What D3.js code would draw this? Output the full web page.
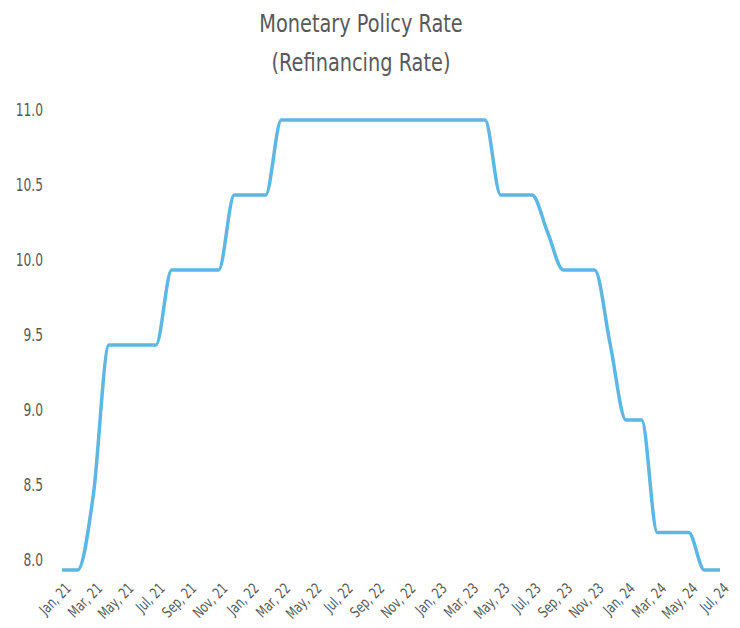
<!DOCTYPE html>
<html>
<head>
<meta charset="utf-8">
<script src="https://cdn.jsdelivr.net/npm/d3@7"></script>
<style>
  body { margin: 0; background: #fff; }
  text { font-family: "Liberation Sans Narrow", "DejaVu Sans Condensed", sans-serif; fill: #595959; }
</style>
</head>
<body>
<div id="chart"></div>
<script>
// monthly refinancing rate, Jan 21 .. Jul 24
const months = ["Jan, 21","Feb, 21","Mar, 21","Apr, 21","May, 21","Jun, 21","Jul, 21","Aug, 21","Sep, 21","Oct, 21","Nov, 21","Dec, 21",
  "Jan, 22","Feb, 22","Mar, 22","Apr, 22","May, 22","Jun, 22","Jul, 22","Aug, 22","Sep, 22","Oct, 22","Nov, 22","Dec, 22",
  "Jan, 23","Feb, 23","Mar, 23","Apr, 23","May, 23","Jun, 23","Jul, 23","Aug, 23","Sep, 23","Oct, 23","Nov, 23","Dec, 23",
  "Jan, 24","Feb, 24","Mar, 24","Apr, 24","May, 24","Jun, 24","Jul, 24"];
const rate = [8, 8, 8.5, 9.5, 9.5, 9.5, 9.5, 10, 10, 10, 10, 10.5,
  10.5, 10.5, 11, 11, 11, 11, 11, 11, 11, 11, 11, 11,
  11, 11, 11, 11, 10.5, 10.5, 10.5, 10.25, 10, 10, 10, 9.5,
  9, 9, 8.25, 8.25, 8.25, 8, 8];
const yTicks = [8.0, 8.5, 9.0, 9.5, 10.0, 10.5, 11.0];

const width = 740, height = 628;
const narrow = 0.8; // squeeze text so it looks like a narrow font

const svg = d3.select("#chart").append("svg")
  .attr("width", width)
  .attr("height", height);

const x = d3.scalePoint().domain(months).range([62, 720]);
const y = d3.scaleLinear().domain([8, 11]).range([570, 120]);

// title
const titleLines = ["Monetary Policy Rate", "(Refinancing Rate)"];
svg.append("g").selectAll("text")
  .data(titleLines).join("text")
    .attr("transform", (d, i) => `translate(361,${i ? 71 : 32}) scale(0.86,1)`)
    .attr("text-anchor", "middle")
    .style("font-size", "25px")
    .text(d => d);

// y axis labels (no axis line)
svg.append("g").selectAll("text")
  .data(yTicks).join("text")
    .attr("transform", d => `translate(43,${y(d) - 10}) scale(${narrow},1)`)
    .attr("dy", "0.35em")
    .attr("text-anchor", "end")
    .style("font-size", "17px")
    .text(d => d.toFixed(1));

// x axis labels, every second month, rotated
const xAxis = svg.append("g")
  .attr("transform", "translate(0,582)")
  .call(d3.axisBottom(x)
    .tickValues(months.filter((d, i) => i % 2 === 0))
    .tickSize(0));
xAxis.select(".domain").remove();
xAxis.selectAll("text")
  .style("font-size", "15px")
  .attr("fill", null)
  .attr("text-anchor", "end")
  .attr("transform", `translate(2,0) rotate(-45) scale(${narrow},1)`)
  .attr("dy", "0.7em")
  .attr("y", 0);

// the line
svg.append("path")
  .datum(rate)
  .attr("fill", "none")
  .attr("stroke", "#5DB7E5")
  .attr("stroke-width", 3.5)
  .attr("d", d3.line()
    .x((d, i) => x(months[i]))
    .y(d => y(d))
    .curve(d3.curveMonotoneX));
</script>
</body>
</html>
